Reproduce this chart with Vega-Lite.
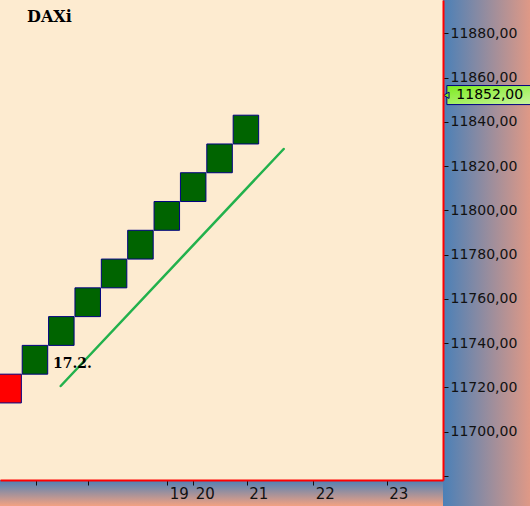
{
  "$schema": "https://vega.github.io/schema/vega-lite/v6.json",
  "width": 443,
  "height": 480,
  "autosize": "none",
  "padding": {"left": 0, "top": 0, "right": 87, "bottom": 26},
  "background": "#FDEBD0",
  "config": {
    "view": {"fill": "#FDEBD0", "stroke": null},
    "axis": {"grid": false, "title": null, "zindex": 1},
    "scale": {"continuousPadding": 0}
  },
  "layer": [
    {
      "data": {"values": [{"area": "price axis"}]},
      "mark": {
        "type": "rect",
        "fill": {"gradient": "linear", "x1": 0, "y1": 0, "x2": 1, "y2": 0,
          "stops": [{"offset": 0, "color": "#4B80B7"}, {"offset": 1, "color": "#F29C80"}]}
      },
      "encoding": {
        "x": {"datum": 16.474, "type": "quantitative"},
        "x2": {"datum": 20.2},
        "y": {"datum": 11900, "type": "quantitative"},
        "y2": {"datum": 11655}
      }
    },
    {
      "data": {"values": [{"area": "time axis"}]},
      "mark": {
        "type": "rect",
        "fill": {"gradient": "linear", "x1": 0, "y1": 0, "x2": 0, "y2": 1,
          "stops": [{"offset": 0, "color": "#4C80B6"}, {"offset": 1, "color": "#F3A282"}]}
      },
      "encoding": {
        "x": {"datum": -1, "type": "quantitative"},
        "x2": {"datum": 16.474},
        "y": {"datum": 11678.18, "type": "quantitative"},
        "y2": {"datum": 11666.4}
      }
    },
    {
      "data": {"values": [
        {"i": 0, "lo": 11713, "hi": 11726, "dir": "down"},
        {"i": 1, "lo": 11726, "hi": 11739, "dir": "up"},
        {"i": 2, "lo": 11739, "hi": 11752, "dir": "up"},
        {"i": 3, "lo": 11752, "hi": 11765, "dir": "up"},
        {"i": 4, "lo": 11765, "hi": 11778, "dir": "up"},
        {"i": 5, "lo": 11778, "hi": 11791, "dir": "up"},
        {"i": 6, "lo": 11791, "hi": 11804, "dir": "up"},
        {"i": 7, "lo": 11804, "hi": 11817, "dir": "up"},
        {"i": 8, "lo": 11817, "hi": 11830, "dir": "up"},
        {"i": 9, "lo": 11830, "hi": 11843, "dir": "up"}
      ]},
      "mark": {"type": "bar", "size": 25.5, "stroke": "#000080", "strokeWidth": 1},
      "encoding": {
        "x": {
          "field": "i", "type": "quantitative",
          "scale": {"domain": [-0.326, 16.474], "nice": false, "zero": false, "padding": 0},
          "axis": {
            "orient": "bottom",
            "zindex": 2,
            "values": [1.028, 3.022, 6.018, 7.004, 9.029, 11.555, 14.338],
            "labelExpr": "datum.value > 14 ? '23' : datum.value > 11 ? '22' : datum.value > 9 ? '21' : datum.value > 6.5 ? '20' : datum.value > 5 ? '19' : ''",
            "labelAlign": "left",
            "labelOffset": 2,
            "labelPadding": 1,
            "labelFlush": false,
            "labelOverlap": false,
            "labelFont": "DejaVu Sans",
            "labelFontSize": 15,
            "labelColor": "#111111",
            "tickColor": "#111111",
            "tickSize": 5,
            "tickWidth": 1,
            "domainColor": "#FF0000",
            "domainWidth": 2
          }
        },
        "y": {
          "field": "lo", "type": "quantitative",
          "scale": {"domain": [11678.18, 11895.05], "nice": false, "zero": false, "padding": 0},
          "axis": {
            "orient": "right",
            "zindex": 2,
            "values": [11680, 11685, 11690, 11695, 11700, 11705, 11710, 11715, 11720, 11725, 11730, 11735, 11740, 11745, 11750, 11755, 11760, 11765, 11770, 11775, 11780, 11785, 11790, 11795, 11800, 11805, 11810, 11815, 11820, 11825, 11830, 11835, 11840, 11845, 11850, 11855, 11860, 11865, 11870, 11875, 11880, 11885, 11890],
            "labelExpr": "datum.value % 20 === 0 && datum.value >= 11700 ? replace(format(datum.value, '.2f'), '.', ',') : ''",
            "labelOverlap": false,
            "labelFlush": false,
            "labelPadding": 2,
            "labelFont": "DejaVu Sans",
            "labelFontSize": 14,
            "labelColor": "#111111",
            "tickColor": "#111111",
            "tickSize": {"condition": {"test": "datum.value % 20 === 0", "value": 5}, "value": 2},
            "tickWidth": 1,
            "domainColor": "#FF0000",
            "domainWidth": 2
          }
        },
        "y2": {"field": "hi"},
        "color": {
          "field": "dir", "type": "nominal",
          "scale": {"domain": ["down", "up"], "range": ["#FF0000", "#006400"]},
          "legend": null
        }
      }
    },
    {
      "data": {"values": [
        {"i": 1.976, "v": 11720.65},
        {"i": 10.432, "v": 11827.73}
      ]},
      "mark": {"type": "line", "color": "#22B14C", "strokeWidth": 2.5, "strokeCap": "round"},
      "encoding": {
        "x": {"field": "i", "type": "quantitative"},
        "y": {"field": "v", "type": "quantitative"}
      }
    },
    {
      "data": {"values": [{"i": 1.684, "v": 11730.6, "label": "17.2."}]},
      "mark": {"type": "text", "align": "left", "baseline": "middle", "font": "DejaVu Serif", "fontWeight": "bold", "fontSize": 14, "color": "#000000"},
      "encoding": {
        "x": {"field": "i", "type": "quantitative"},
        "y": {"field": "v", "type": "quantitative"},
        "text": {"field": "label"}
      }
    },
    {
      "data": {"values": [{"i": 0.698, "v": 11887.4, "label": "DAXi"}]},
      "mark": {"type": "text", "align": "left", "baseline": "middle", "font": "DejaVu Serif", "fontWeight": "bold", "fontSize": 16, "color": "#000000"},
      "encoding": {
        "x": {"field": "i", "type": "quantitative"},
        "y": {"field": "v", "type": "quantitative"},
        "text": {"field": "label"}
      }
    },
    {
      "data": {"values": [{"last": 11852}]},
      "mark": {
        "type": "rect",
        "stroke": "#000080",
        "strokeWidth": 1,
        "fill": {"gradient": "linear", "x1": 0, "y1": 0, "x2": 1, "y2": 1,
          "stops": [{"offset": 0, "color": "#7CEB1E"}, {"offset": 1, "color": "#CDF5A5"}]}
      },
      "encoding": {
        "x": {"datum": 16.62, "type": "quantitative"},
        "x2": {"datum": 20.2},
        "y": {"datum": 11856.4, "type": "quantitative"},
        "y2": {"datum": 11847.8}
      }
    },
    {
      "data": {"values": [{"last": 11852}]},
      "mark": {"type": "point", "shape": "triangle-left", "filled": true, "size": 40, "fill": "#7CEB1E", "stroke": "#000080", "strokeWidth": 1, "opacity": 1},
      "encoding": {
        "x": {"datum": 16.6, "type": "quantitative"},
        "y": {"field": "last", "type": "quantitative"}
      }
    },
    {
      "data": {"values": [{"last": 11852, "label": "11852,00"}]},
      "mark": {"type": "text", "align": "left", "baseline": "middle", "font": "DejaVu Sans", "fontSize": 14, "color": "#000000"},
      "encoding": {
        "x": {"datum": 16.98, "type": "quantitative"},
        "y": {"field": "last", "type": "quantitative"},
        "text": {"field": "label"}
      }
    }
  ]
}
